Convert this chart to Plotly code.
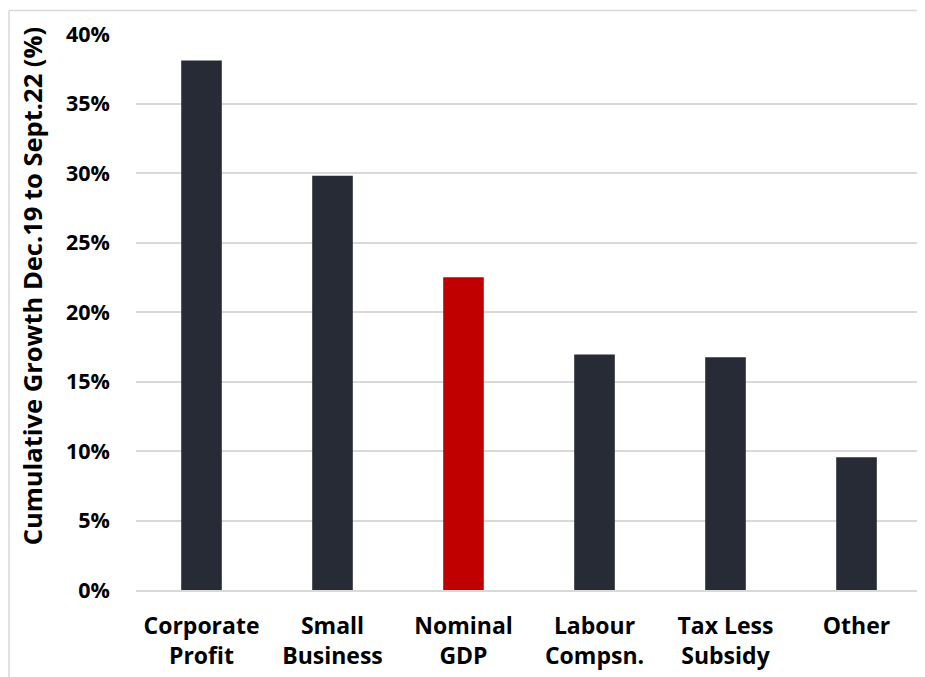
import plotly.graph_objects as go

categories = ["Corporate<br>Profit", "Small<br>Business", "Nominal<br>GDP", "Labour<br>Compsn.", "Tax Less<br>Subsidy", "Other"]
values = [38.1, 29.8, 22.5, 16.95, 16.75, 9.55]
colors = ["#262B35", "#262B35", "#C00000", "#262B35", "#262B35", "#262B35"]
tick_vals = [0, 5, 10, 15, 20, 25, 30, 35, 40]
tick_text = [f"{v}%" for v in tick_vals]
y_title = "Cumulative Growth Dec.19 to Sept.22 (%)"

# page body has an 8px margin; figure coordinates = screen coordinates - 8
OFF = 8
W, H = 925 - OFF, 677 - OFF
ml, mr, mt, mb = 136 - OFF, 3, 33.5 - OFF, 87
pw, ph = W - ml - mr, H - mt - mb

FONT = "Open Sans"

fig = go.Figure(go.Bar(x=categories, y=values, marker=dict(color=colors, line=dict(width=0)), width=0.31))

fig.update_layout(
    width=W, height=H,
    margin=dict(l=ml, r=mr, t=mt, b=mb, autoexpand=False),
    paper_bgcolor="white", plot_bgcolor="white",
    font=dict(family=FONT, color="black"),
    showlegend=False,
    xaxis=dict(tickfont=dict(size=23, family=FONT, weight="bold"), showgrid=False,
               showline=True, linecolor="#D9D9D9", linewidth=1.5, ticks="", ticklabelstandoff=15),
    yaxis=dict(range=[0, 40], tickvals=tick_vals, ticktext=tick_text,
               tickfont=dict(size=21.5, family=FONT, weight="bold"),
               gridcolor="#D9D9D9", gridwidth=1.5, zeroline=False, ticks="",
               ticklabelstandoff=25),
)

# y-axis title placed as a rotated annotation (centre at screen x=32, y=286)
fig.add_annotation(text=y_title, textangle=-90, showarrow=False,
                   xref="paper", yref="paper",
                   x=(32 - OFF - ml) / pw, y=(H - mb - (286 - OFF)) / ph,
                   xanchor="center", yanchor="middle",
                   font=dict(size=25.5, family=FONT, weight="bold", color="black"))

# outer chart border (left and top edges visible)
x0 = (9 - OFF - ml) / pw
y0 = (H - mb - (10 - OFF)) / ph
fig.add_shape(type="line", xref="paper", yref="paper", x0=x0, x1=1.01, y0=y0, y1=y0,
              line=dict(color="#D9D9D9", width=1.5))
fig.add_shape(type="line", xref="paper", yref="paper", x0=x0, x1=x0, y0=y0, y1=-0.2,
              line=dict(color="#D9D9D9", width=1.5))

fig.write_html("out.html")
